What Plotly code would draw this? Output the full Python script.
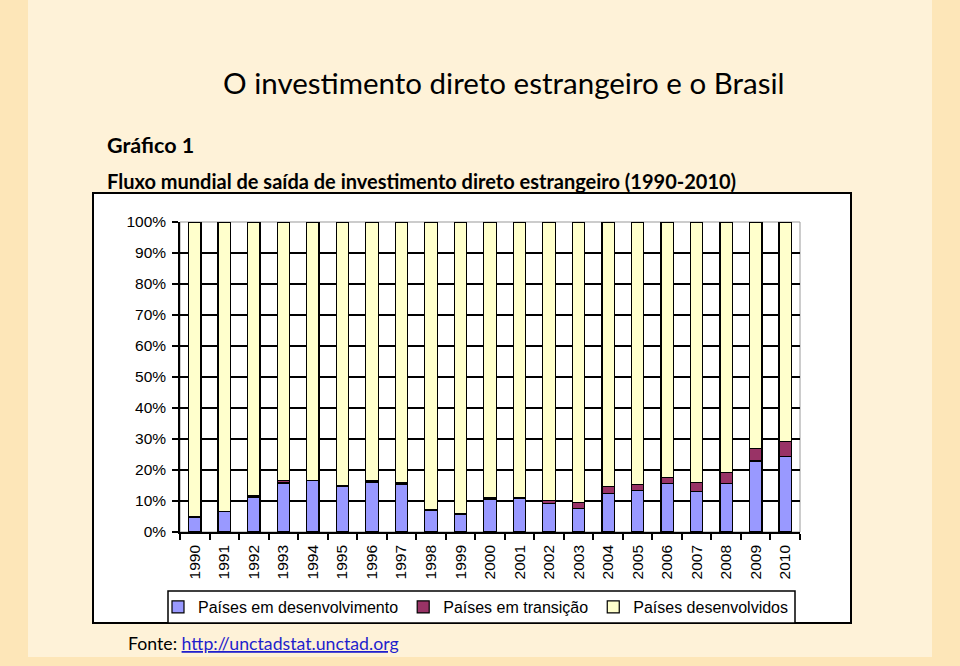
import plotly.graph_objects as go

years = [str(y) for y in range(1990, 2011)]
em_desenvolvimento = [4.8, 6.5, 11.3, 15.8, 16.5, 14.8, 16.1, 15.2, 6.9, 5.8, 10.5, 10.8, 9.2, 7.6, 12.5, 13.4, 15.7, 13.1, 15.7, 22.9, 24.3]
em_transicao = [0.1, 0.1, 0.5, 0.7, 0.1, 0.1, 0.5, 0.6, 0.2, 0.1, 0.5, 0.2, 0.9, 1.8, 2.1, 2.0, 1.9, 2.8, 3.4, 4.1, 4.8]
desenvolvidos = [round(100 - a - b, 1) for a, b in zip(em_desenvolvimento, em_transicao)]
y_ticks = list(range(0, 101, 10))
y_labels = [f"{v}%" for v in y_ticks]

W, H = 960, 666
PX0, PX1, PY0, PY1 = 180, 800, 222, 532  # plot area in pixels (top, bottom)


def px(x):
    return (x - PX0) / (PX1 - PX0)


def py(y):
    return (PY1 - y) / (PY1 - PY0)


fig = go.Figure()
series = [
    ("Países em desenvolvimento", em_desenvolvimento, "#9999FF"),
    ("Países em transição", em_transicao, "#993366"),
    ("Países desenvolvidos", desenvolvidos, "#FFFFCC"),
]
for name, vals, col in series:
    fig.add_trace(go.Bar(
        x=years, y=vals, name=name, width=0.42,
        marker=dict(color=col, line=dict(color="black", width=1.2)),
    ))

shapes = [
    # inner light slide panel
    dict(type="rect", xref="paper", yref="paper", x0=px(28), x1=px(932), y0=py(657), y1=py(0),
         fillcolor="#FEF2D8", line=dict(width=0), layer="below"),
    # white chart box
    dict(type="rect", xref="paper", yref="paper", x0=px(93), x1=px(851), y0=py(623), y1=py(193),
         fillcolor="white", line=dict(color="black", width=2), layer="below"),
    # legend box
    dict(type="rect", xref="paper", yref="paper", x0=px(168), x1=px(795), y0=py(623), y1=py(591),
         fillcolor="white", line=dict(color="black", width=1.5), layer="below"),
    # plot frame (gray top/right)
    dict(type="rect", xref="paper", yref="paper", x0=0, x1=1, y0=0, y1=1,
         fillcolor="rgba(0,0,0,0)", line=dict(color="#999999", width=1), layer="below"),
]

annotations = [
    dict(text="O investimento direto estrangeiro e o Brasil", xref="paper", yref="paper",
         x=px(503), y=py(82), xanchor="center", yanchor="middle", showarrow=False,
         font=dict(family="Lato", size=29.5, color="black")),
    dict(text="<b>Gráfico 1</b>", xref="paper", yref="paper",
         x=px(105), y=py(145), xanchor="left", yanchor="middle", showarrow=False,
         font=dict(family="Lato", size=21.5, color="black")),
    dict(text="<b>Fluxo mundial de saída de investimento direto estrangeiro (1990-2010)</b>",
         xref="paper", yref="paper",
         x=px(105), y=py(181), xanchor="left", yanchor="middle", showarrow=False,
         font=dict(family="Lato", size=20, color="black")),
    dict(text="Fonte: <a href='http://unctadstat.unctad.org' style='color:#1F1FCC'><u>http://unctadstat.unctad.org</u></a>",
         xref="paper", yref="paper",
         x=px(126), y=py(643), xanchor="left", yanchor="middle", showarrow=False,
         font=dict(family="Lato", size=17.7, color="black")),
]

fig.update_layout(
    width=W, height=H,
    margin=dict(l=PX0, r=W - PX1, t=PY0, b=H - PY1, autoexpand=False),
    barmode="stack",
    paper_bgcolor="#FDE6B8",
    plot_bgcolor="white",
    shapes=shapes,
    annotations=annotations,
    font=dict(family="Liberation Sans, Arial", color="black"),
    legend=dict(
        orientation="h", x=px(158), y=py(607), xanchor="left", yanchor="middle",
        font=dict(family="Liberation Sans, Arial", size=16, color="black"),
        bgcolor="rgba(0,0,0,0)", borderwidth=0, traceorder="normal",
    ),
    bargap=0.5,
)
fig.update_xaxes(
    type="category", range=[-0.5, 20.5], tickangle=-90,
    tickfont=dict(family="Liberation Sans, Arial", size=15.5, color="black"),
    showline=True, linecolor="black", linewidth=1.5,
    ticks="outside", tickson="boundaries", ticklen=6, tickcolor="black", tickwidth=1.5,
    ticklabelstandoff=5,
    showgrid=False, fixedrange=True,
)
fig.update_yaxes(
    range=[0, 100], tickvals=y_ticks, ticktext=y_labels,
    tickfont=dict(family="Liberation Sans, Arial", size=15.5, color="black"),
    showline=True, linecolor="black", linewidth=1.5,
    ticks="outside", ticklen=6, tickcolor="black", tickwidth=1.5,
    ticklabelstandoff=3,
    showgrid=True, gridcolor="black", gridwidth=1.5, zeroline=False, fixedrange=True,
)

fig.write_html(
    "out.html",
    config={"displayModeBar": False},
    post_script="document.body.style.margin='0';document.body.style.background='#FDE6B8';",
)
